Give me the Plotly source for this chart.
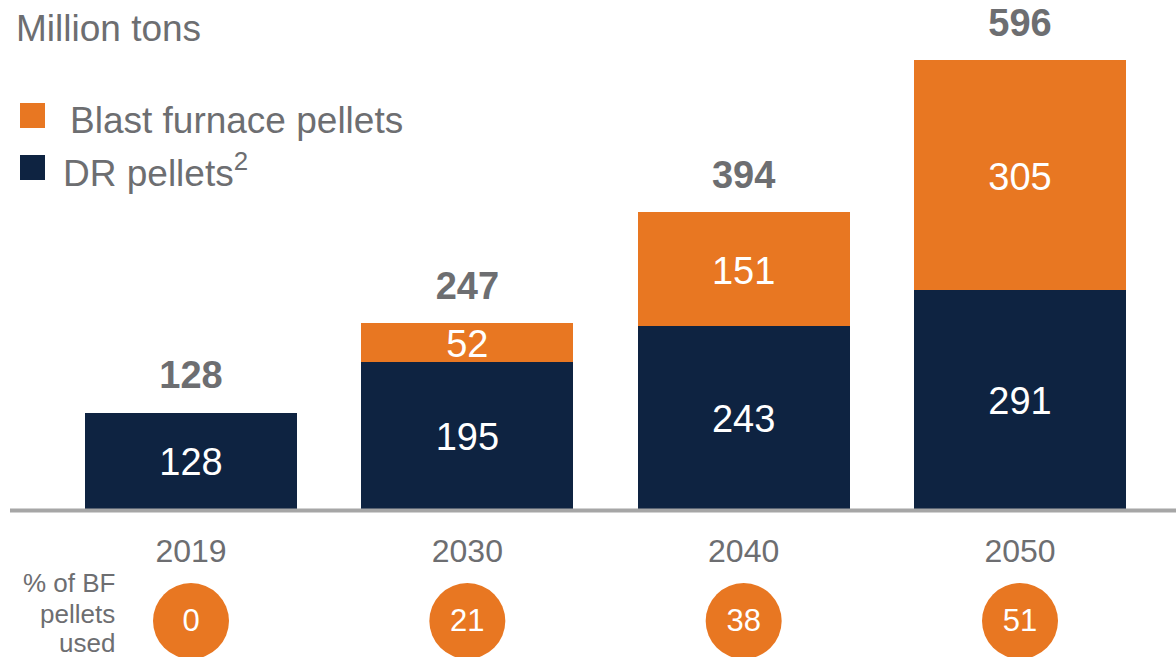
import plotly.graph_objects as go

years = ["2019", "2030", "2040", "2050"]
dr_pellets = [128, 195, 243, 291]
bf_pellets = [0, 52, 151, 305]
totals = [128, 247, 394, 596]
bf_share = [0, 21, 38, 51]

ORANGE = "#E87722"
NAVY = "#0E2341"
GRAY = "#6D6E71"
FONT = "Liberation Sans, Arial, sans-serif"

W, H = 1176, 657
base_px = 509.0
px_per_unit = 0.753
y_top = base_px / px_per_unit
y_bot = -(H - base_px) / px_per_unit

def py(p):
    return 1 - p / H

def val_y(p):
    return (base_px - p) / px_per_unit

shift = 5 / px_per_unit  # optical correction: digits sit above box centre

fig = go.Figure()
fig.add_trace(go.Bar(x=years, y=dr_pellets, marker=dict(color=NAVY, line_width=0),
                     width=0.767, name="DR pellets", hoverinfo="skip"))
fig.add_trace(go.Bar(x=years, y=bf_pellets, marker=dict(color=ORANGE, line_width=0),
                     width=0.767, name="Blast furnace pellets", hoverinfo="skip"))

# circles
fig.add_trace(go.Scatter(x=years, y=[val_y(621)] * 4, mode="markers",
                         marker=dict(size=76, color=ORANGE, line_width=0),
                         cliponaxis=False, hoverinfo="skip", showlegend=False))
fig.add_trace(go.Scatter(x=years, y=[val_y(623)] * 4, mode="text",
                         text=[str(v) for v in bf_share], textposition="middle center",
                         textfont=dict(family=FONT, size=31, color="white"),
                         cliponaxis=False, hoverinfo="skip", showlegend=False))

# in-bar labels
seg_x, seg_y, seg_t = [], [], []
for i, yr in enumerate(years):
    seg_x.append(yr); seg_y.append(dr_pellets[i] / 2 - shift); seg_t.append(str(dr_pellets[i]))
    if bf_pellets[i] > 0:
        seg_x.append(yr); seg_y.append(dr_pellets[i] + bf_pellets[i] / 2 - shift)
        seg_t.append(str(bf_pellets[i]))
fig.add_trace(go.Scatter(x=seg_x, y=seg_y, mode="text", text=seg_t, textposition="middle center",
                         textfont=dict(family=FONT, size=38, color="white"),
                         hoverinfo="skip", showlegend=False, cliponaxis=False))

# totals
fig.add_trace(go.Scatter(x=years, y=[t + 34 / px_per_unit for t in totals], mode="text",
                         text=["<b>%d</b>" % t for t in totals], textposition="middle center",
                         textfont=dict(family=FONT, size=38, color=GRAY),
                         hoverinfo="skip", showlegend=False, cliponaxis=False))

# year labels
fig.add_trace(go.Scatter(x=years, y=[val_y(554)] * 4, mode="text", text=years,
                         textposition="middle center",
                         textfont=dict(family=FONT, size=32, color=GRAY),
                         hoverinfo="skip", showlegend=False, cliponaxis=False))

ann = []
ann.append(dict(x=14 / W, y=py(28), xref="paper", yref="paper", text="Million tons",
                showarrow=False, xanchor="left", yanchor="middle",
                font=dict(family=FONT, size=37, color=GRAY)))
ann.append(dict(x=68 / W, y=py(120), xref="paper", yref="paper", text="Blast furnace pellets",
                showarrow=False, xanchor="left", yanchor="middle",
                font=dict(family=FONT, size=37, color=GRAY)))
ann.append(dict(x=61 / W, y=py(170), xref="paper", yref="paper", text="DR pellets<sup>2</sup>",
                showarrow=False, xanchor="left", yanchor="middle",
                font=dict(family=FONT, size=37, color=GRAY)))
for t, p in [("% of BF", 583), ("pellets", 614), ("used", 643)]:
    ann.append(dict(x=117 / W, y=py(p), xref="paper", yref="paper", text=t, showarrow=False,
                    xanchor="right", yanchor="middle",
                    font=dict(family=FONT, size=26, color=GRAY)))

shapes = [
    dict(type="rect", xref="paper", yref="paper", x0=20 / W, x1=45 / W, y0=py(128), y1=py(103),
         fillcolor=ORANGE, line_width=0),
    dict(type="rect", xref="paper", yref="paper", x0=20 / W, x1=45 / W, y0=py(180), y1=py(155),
         fillcolor=NAVY, line_width=0),
    dict(type="line", xref="paper", yref="paper", x0=10 / W, x1=1, y0=py(510.5), y1=py(510.5),
         line=dict(color="#A6A6A6", width=4)),
]

cx0 = 191.0
spacing = (1020.0 - 191.0) / 3
fig.update_layout(
    width=W, height=H, barmode="stack", showlegend=False,
    margin=dict(l=0, r=0, t=0, b=0),
    plot_bgcolor="white", paper_bgcolor="white",
    xaxis=dict(type="category", range=[-cx0 / spacing, (W - cx0) / spacing],
               showticklabels=False, showgrid=False, zeroline=False, showline=False),
    yaxis=dict(range=[y_bot, y_top], showticklabels=False, showgrid=False, zeroline=False,
               showline=False),
    annotations=ann, shapes=shapes,
)
fig.write_html("out.html")
